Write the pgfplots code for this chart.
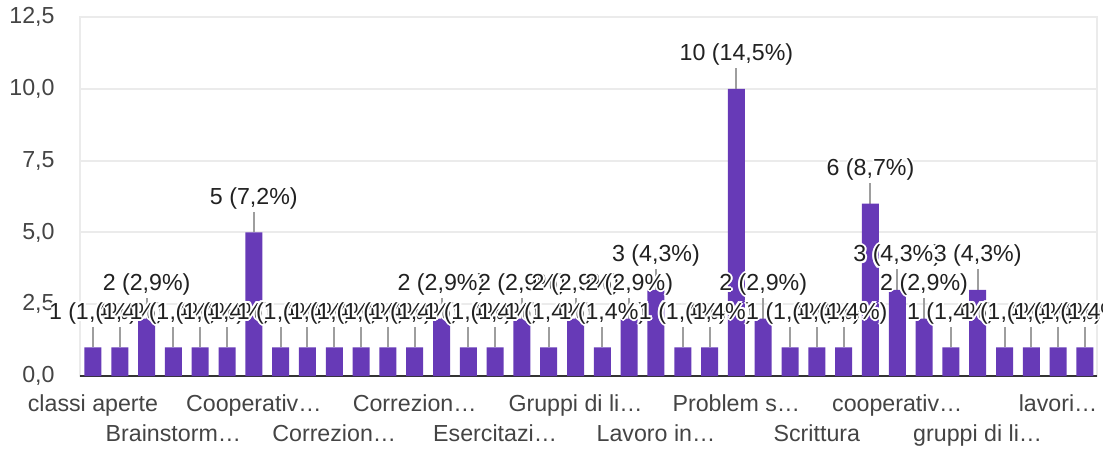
\documentclass[border=0pt]{standalone}
\usepackage{fontspec}
\setmainfont{Liberation Sans}
\usepackage{pgfplots}
\pgfplotsset{compat=1.18}
\definecolor{barc}{HTML}{673AB7}
\definecolor{gridc}{HTML}{EBEBEB}
\definecolor{axc}{HTML}{333333}
\definecolor{tickc}{HTML}{444444}
\definecolor{labc}{HTML}{212121}
\definecolor{leadc}{HTML}{9E9E9E}
\newcommand{\tf}{\fontsize{11.6}{13}\selectfont}
\newcommand{\hc}[3]{\rlap{\textcolor{white}{\hspace*{#1}\raisebox{#2}{#3}}}}
\newcommand{\halo}[1]{\leavevmode
  \hc{1pt}{0pt}{#1}\hc{-1pt}{0pt}{#1}\hc{0pt}{1pt}{#1}\hc{0pt}{-1pt}{#1}%
  \hc{0.7pt}{0.7pt}{#1}\hc{-0.7pt}{0.7pt}{#1}\hc{0.7pt}{-0.7pt}{#1}\hc{-0.7pt}{-0.7pt}{#1}%
  \hc{0.5pt}{0pt}{#1}\hc{-0.5pt}{0pt}{#1}\hc{0pt}{0.5pt}{#1}\hc{0pt}{-0.5pt}{#1}%
  #1}
\begin{document}
\begin{tikzpicture}
\useasboundingbox (-40pt,-38pt) rectangle (511.5pt,188pt);
\begin{axis}[
  at={(0pt,0pt)}, anchor=south west, scale only axis,
  width=508.5pt, height=179.5pt,
  xmin=0.516, xmax=38.45, ymin=0, ymax=12.5,
  clip=false,
  axis line style={draw=gridc, line width=1pt},
  major tick length=0pt,
  ytick={0,2.5,5,7.5,10,12.5},
  ymajorgrids, major grid style={draw=gridc, line width=1pt},
  yticklabel style={anchor=east, inner sep=0pt, xshift=-12.5pt, text=tickc, font=\tf},
  /pgf/number format/.cd, fixed, fixed zerofill, precision=1, use comma, assume math mode=true, /pgfplots/.cd,
  extra y ticks={0}, extra y tick labels={},
  extra y tick style={ymajorgrids, major grid style={draw=axc, line width=1.3pt}},
  xtick={1,7,13,19,25,31,37},
  xticklabels={classi aperte, Cooperativ…, Correzion…, Gruppi di li…, Problem s…, cooperativ…, lavori…},
  xticklabel style={anchor=base, inner sep=0pt, yshift=-17.5pt, text=tickc, font=\tf},
  extra x ticks={4,10,16,22,28,34},
  extra x tick labels={Brainstorm…, Correzion…, Esercitazi…, Lavoro in…, Scrittura, gruppi di li…},
  extra x tick style={xticklabel style={yshift=-15pt}},
]
\addplot[draw=none, mark=none, forget plot,
  error bars/.cd, y dir=plus, y fixed=0.72, error mark=none,
  error bar style={draw=leadc, line width=1pt}]
coordinates {
(1,1) (2,1) (3,2) (4,1) (5,1) (6,1) (7,5) (8,1) (9,1) (10,1)
(11,1) (12,1) (13,1) (14,2) (15,1) (16,1) (17,2) (18,1) (19,2) (20,1)
(21,2) (22,3) (23,1) (24,1) (25,10) (26,2) (27,1) (28,1) (29,1) (30,6)
(31,3) (32,2) (33,1) (34,3) (35,1) (36,1) (37,1) (38,1)
};
\addplot[ybar, bar width=8.5pt, fill=barc, draw=none,
  point meta=explicit symbolic, nodes near coords={\halo{\pgfplotspointmeta}},
  every node near coord/.append style={anchor=center, yshift=17pt, inner sep=0pt, text=labc, font=\tf}]
coordinates {
(1,1) [1 (1,4\%)] (2,1) [1 (1,4\%)] (3,2) [2 (2,9\%)] (4,1) [1 (1,4\%)] (5,1) [1 (1,4\%)]
(6,1) [1 (1,4\%)] (7,5) [5 (7,2\%)] (8,1) [1 (1,4\%)] (9,1) [1 (1,4\%)] (10,1) [1 (1,4\%)]
(11,1) [1 (1,4\%)] (12,1) [1 (1,4\%)] (13,1) [1 (1,4\%)] (14,2) [2 (2,9\%)] (15,1) [1 (1,4\%)]
(16,1) [1 (1,4\%)] (17,2) [2 (2,9\%)] (18,1) [1 (1,4\%)] (19,2) [2 (2,9\%)] (20,1) [1 (1,4\%)]
(21,2) [2 (2,9\%)] (22,3) [3 (4,3\%)] (23,1) [1 (1,4\%)] (24,1) [1 (1,4\%)] (25,10) [10 (14,5\%)]
(26,2) [2 (2,9\%)] (27,1) [1 (1,4\%)] (28,1) [1 (1,4\%)] (29,1) [1 (1,4\%)] (30,6) [6 (8,7\%)]
(31,3) [3 (4,3\%)] (32,2) [2 (2,9\%)] (33,1) [1 (1,4\%)] (34,3) [3 (4,3\%)] (35,1) [1 (1,4\%)]
(36,1) [1 (1,4\%)] (37,1) [1 (1,4\%)] (38,1) [1 (1,4\%)]
};
\end{axis}
\end{tikzpicture}
\end{document}
